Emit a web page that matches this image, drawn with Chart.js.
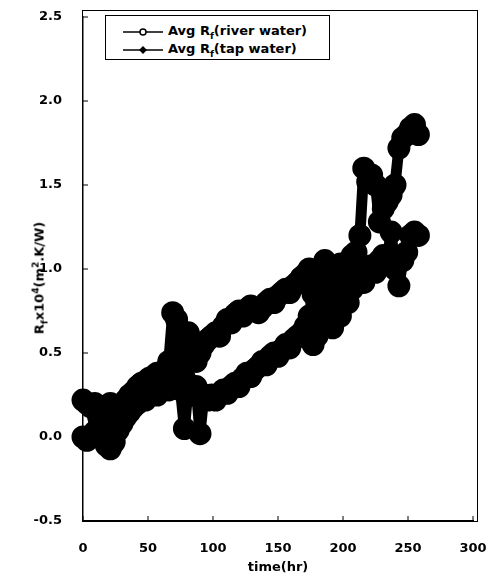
<!DOCTYPE html>
<html>
<head>
<meta charset="utf-8">
<script src="https://cdn.jsdelivr.net/npm/chart.js@4"></script>
<style>
  html, body { margin: 0; padding: 0; background: #fff; }
  #wrap { position: relative; width: 490px; height: 579px; }
  #frame {
    position: absolute; left: 82px; top: 10px; width: 396px; height: 512px;
    box-sizing: border-box; border: 1.5px solid #000; pointer-events: none;
  }
  #legend {
    position: absolute; left: 105px; top: 15px; width: 223px; height: 43px;
    border: 1.5px solid #000; background: #fff;
    font: bold 13px "DejaVu Sans", sans-serif; color: #000;
  }
  .row { position: absolute; left: 17px; height: 16px; display: flex; align-items: center; }
  .row svg { margin-right: 5px; }
  #ytitle {
    position: absolute; left: 40px; top: 278px;
    transform: translate(-50%, -50%) rotate(-90deg);
    white-space: nowrap; font: bold 13px "DejaVu Sans", sans-serif; color: #000;
  }
  sub, sup { font-size: 9px; }
</style>
</head>
<body>
<div id="wrap">
  <canvas id="foulingChart" width="490" height="579"></canvas>
  <div id="frame"></div>
  <div id="legend">
    <div class="row" style="top:8px">
      <svg width="40" height="10"><line x1="0" y1="5" x2="40" y2="5" stroke="#000" stroke-width="1.5"/><circle cx="20" cy="5" r="3" fill="#fff" stroke="#000" stroke-width="1.5"/></svg>
      <span>Avg R<sub>f</sub>(river water)</span>
    </div>
    <div class="row" style="top:26px">
      <svg width="40" height="10"><line x1="0" y1="5" x2="40" y2="5" stroke="#000" stroke-width="1.5"/><polygon points="20,1 24,5 20,9 16,5" fill="#000"/></svg>
      <span>Avg R<sub>f</sub>(tap water)</span>
    </div>
  </div>
  <div id="ytitle">R<sub>f</sub>x10<sup>4</sup>(m<sup>2</sup>.K/W)</div>
</div>
<script>
// time (hr)
const hours = [0, 3, 6, 9, 12, 15, 18, 21, 24, 27, 30, 33, 36, 39, 42, 45, 48, 51, 54, 57,
    60, 63, 66, 69, 72, 75, 78, 81, 84, 87, 90, 93, 96, 99, 102, 105, 108, 111, 114, 117,
    120, 123, 126, 129, 132, 135, 138, 141, 144, 147, 150, 153, 156, 159, 162, 165, 168, 171, 174, 177,
    180, 183, 186, 189, 192, 195, 198, 201, 204, 207, 210, 213, 216, 219, 222, 225, 228, 231, 234, 237,
    240, 243, 246, 249, 252, 255, 258];

// Avg Rf x10^4 (m2.K/W)
const riverWater = [0.00, -0.02, 0.00, 0.03, 0.06, 0.12, 0.18, 0.20, 0.14, 0.12, 0.18, 0.22, 0.25, 0.27, 0.30, 0.32, 0.33, 0.35, 0.36, 0.38,
    0.37, 0.40, 0.45, 0.74, 0.70, 0.40, 0.35, 0.62, 0.55, 0.45, 0.50, 0.55, 0.58, 0.60, 0.62, 0.60, 0.66, 0.70, 0.68, 0.73,
    0.75, 0.72, 0.76, 0.78, 0.76, 0.74, 0.77, 0.80, 0.82, 0.80, 0.84, 0.86, 0.88, 0.86, 0.90, 0.92, 0.95, 0.97, 1.00, 0.55,
    0.92, 0.90, 1.05, 0.78, 0.95, 1.00, 1.03, 0.98, 1.02, 1.08, 1.10, 1.20, 1.60, 1.52, 1.56, 1.50, 1.28, 1.36, 1.40, 1.44,
    1.50, 1.72, 1.78, 1.80, 1.84, 1.86, 1.80];

const tapWater = [0.22, 0.20, 0.18, 0.20, 0.12, 0.02, -0.05, -0.07, -0.03, 0.04, 0.08, 0.12, 0.15, 0.18, 0.20, 0.24, 0.22, 0.26, 0.28, 0.25,
    0.28, 0.30, 0.28, 0.35, 0.30, 0.28, 0.05, 0.30, 0.25, 0.30, 0.02, 0.25, 0.22, 0.25, 0.22, 0.25, 0.28, 0.26, 0.30, 0.32,
    0.30, 0.35, 0.38, 0.36, 0.40, 0.42, 0.45, 0.43, 0.48, 0.50, 0.48, 0.52, 0.55, 0.53, 0.58, 0.60, 0.62, 0.66, 0.72, 0.85,
    0.60, 0.95, 0.70, 0.98, 0.65, 0.88, 0.72, 0.85, 0.80, 0.88, 0.92, 0.95, 0.92, 1.00, 1.02, 0.98, 1.05, 1.08, 1.05, 1.22,
    1.00, 0.90, 1.05, 1.10, 1.20, 1.22, 1.20];

const xTicks = [0, 50, 100, 150, 200, 250, 300];
const yTicks = [-0.5, 0.0, 0.5, 1.0, 1.5, 2.0, 2.5];

const toPoints = (vals) => vals.map((v, i) => ({ x: hours[i], y: v }));

// inward tick marks on left and bottom axes
const innerTicks = {
    id: "innerTicks",
    afterDatasetsDraw(chart) {
        const ctx = chart.ctx;
        const a = chart.chartArea;
        const xs = chart.scales.x;
        const ys = chart.scales.y;
        ctx.save();
        ctx.strokeStyle = "#000";
        ctx.lineWidth = 1;
        ctx.beginPath();
        yTicks.forEach((v) => {
            const py = ys.getPixelForValue(v);
            ctx.moveTo(a.left, py);
            ctx.lineTo(a.left + 5, py);
        });
        xTicks.forEach((v) => {
            const px = xs.getPixelForValue(v);
            ctx.moveTo(px, a.bottom);
            ctx.lineTo(px, a.bottom - 5);
        });
        ctx.stroke();
        ctx.restore();
    },
};

const tickFont = { family: "'DejaVu Sans', sans-serif", size: 13, weight: "bold" };

const seriesStyle = {
    borderColor: "#000",
    backgroundColor: "#000",
    borderWidth: 11,
    borderJoinStyle: "round",
    borderCapStyle: "round",
    pointRadius: 6,
    pointStyle: "circle",
    pointBackgroundColor: "#000",
    pointBorderColor: "#000",
    clip: false,
};

let foulingCtx = document.getElementById("foulingChart");
let foulingChart = new Chart(foulingCtx, {
    type: "line",
    data: {
        datasets: [
            Object.assign({ label: "Avg Rf(river water)", data: toPoints(riverWater) }, seriesStyle),
            Object.assign({ label: "Avg Rf(tap water)", data: toPoints(tapWater) }, seriesStyle),
        ],
    },
    options: {
        responsive: false,
        animation: false,
        layout: { padding: { top: 11, right: 13, left: 0, bottom: 0 } },
        plugins: { legend: { display: false }, tooltip: { enabled: false } },
        scales: {
            x: {
                type: "linear",
                min: 0,
                max: 300,
                grid: { display: false, drawTicks: false },
                border: { display: true, color: "#000", width: 1.5 },
                afterBuildTicks: (s) => { s.ticks = xTicks.map((v) => ({ value: v })); },
                ticks: { color: "#000", font: tickFont, padding: 20 },
                title: {
                    display: true,
                    text: "time(hr)",
                    color: "#000",
                    font: tickFont,
                    padding: { top: 2 },
                },
                afterFit: (s) => { s.height = 58; s.paddingLeft = 0; s.paddingRight = 0; },
            },
            y: {
                min: -0.5,
                max: 2.5,
                grid: { display: false, drawTicks: false },
                border: { display: true, color: "#000", width: 1.5 },
                afterBuildTicks: (s) => { s.ticks = yTicks.map((v) => ({ value: v })); },
                ticks: { color: "#000", font: tickFont, padding: 21, callback: (v) => v.toFixed(1) },
                afterFit: (s) => { s.width = 83; s.paddingTop = 0; s.paddingBottom = 0; },
            },
        },
    },
    plugins: [innerTicks],
});
</script>
</body>
</html>
